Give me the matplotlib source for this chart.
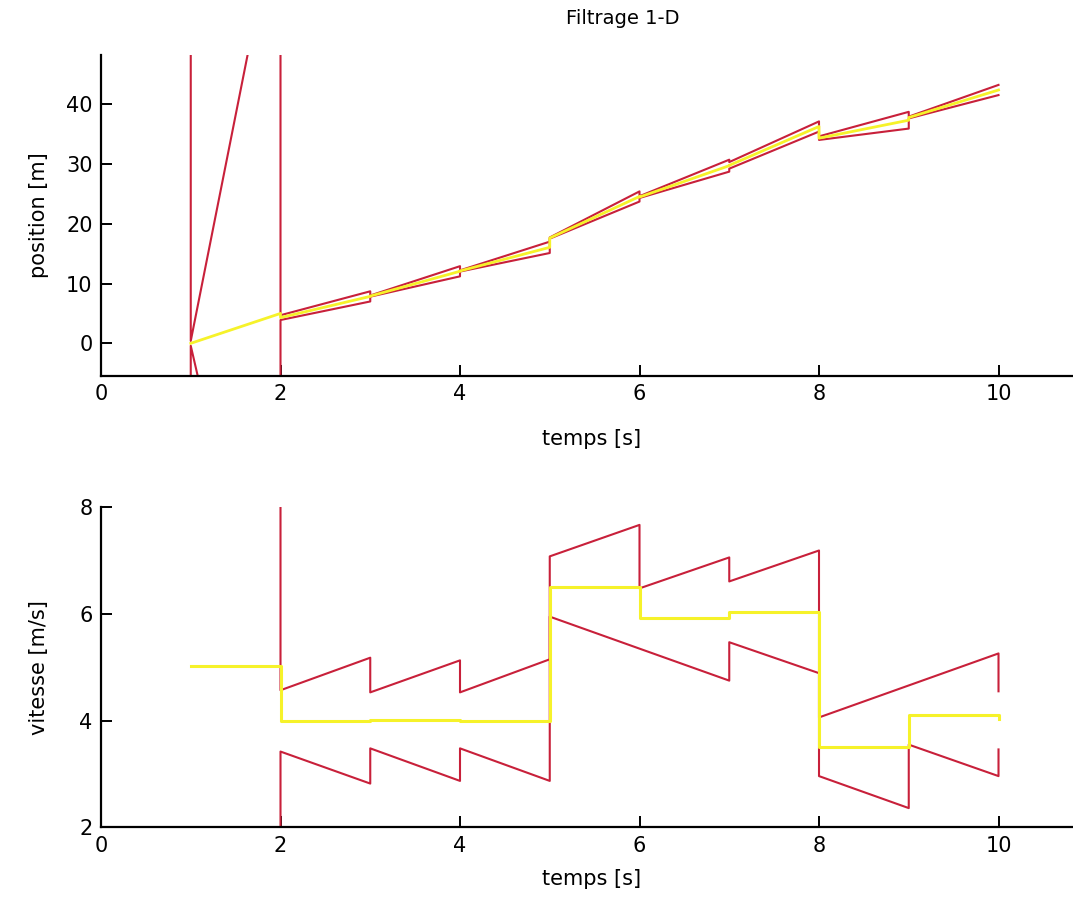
import matplotlib
matplotlib.use("Agg")
import matplotlib.pyplot as plt

# ---------------- data ----------------
# top: position interval bounds (red) and centre estimate (yellow)
pos_up_t = [1, 1, 2, 2, 3, 3, 4, 4, 5, 5, 6, 6, 7, 7, 8, 8, 9, 9, 10]
pos_up_v = [1000, 0.4, 75.9, 4.7, 8.7, 8.0, 12.9, 12.2, 17.0, 17.7, 25.4, 24.6, 30.7, 30.3, 37.1, 34.6, 38.7, 37.9, 43.2]
pos_lo_t = [1, 1, 2, 2, 3, 3, 4, 4, 5, 5, 6, 6, 7, 7, 8, 8, 9, 9, 10]
pos_lo_v = [-1000, -0.4, -65.4, 3.9, 7.0, 7.8, 11.2, 12.0, 15.1, 17.5, 23.7, 24.3, 28.7, 29.2, 35.4, 34.0, 35.9, 37.6, 41.5]
pos_est_t = [1, 2, 2, 3, 3, 4, 4, 5, 5, 6, 6, 7, 7, 8, 8, 9, 9, 10]
pos_est_v = [0.0, 5.0, 4.3, 7.85, 7.9, 12.05, 12.1, 16.05, 17.6, 24.55, 24.45, 29.7, 29.75, 36.25, 34.3, 37.3, 37.75, 42.35]

# bottom: velocity interval bounds (red) and centre estimate (yellow)
vel_up_t = [1, 2, 2, 3, 3, 4, 4, 5, 5, 6, 6, 7, 7, 8, 8, 10, 10]
vel_up_v = [75, 75, 4.57, 5.18, 4.53, 5.13, 4.53, 5.15, 7.08, 7.67, 6.48, 7.06, 6.61, 7.19, 4.06, 5.26, 4.55]
vel_lo_t = [1, 2, 2, 3, 3, 4, 4, 5, 5, 7, 7, 8, 8, 9, 9, 10, 10]
vel_lo_v = [-65, -65, 3.42, 2.82, 3.48, 2.87, 3.48, 2.87, 5.95, 4.75, 5.47, 4.89, 2.96, 2.36, 3.55, 2.96, 3.46]
vel_est_t = [1, 2, 2, 3, 3, 4, 4, 5, 5, 6, 6, 7, 7, 8, 8, 9, 9, 10, 10]
vel_est_v = [5.02, 5.02, 4.0, 4.0, 4.01, 4.01, 4.0, 4.0, 6.51, 6.51, 5.92, 5.92, 6.04, 6.04, 3.51, 3.51, 4.1, 4.1, 4.04]

x_ticks = [0, 2, 4, 6, 8, 10]
pos_ticks = [0, 10, 20, 30, 40]
vel_ticks = [2, 4, 6, 8]

RED = "#c8203a"
YEL = "#f6f22a"

plt.rcParams["font.family"] = ["DejaVu Sans"]
W, H = 1073, 909
fig = plt.figure(figsize=(W / 100, H / 100), dpi=100)

left = 101 / W
width = 1 - left
ax1 = fig.add_axes([left, 1 - 376 / H, width, (376 - 55) / H])
ax2 = fig.add_axes([left, 1 - 827.3 / H, width, (827.3 - 507.3) / H])

def style(ax, xlab_y):
    for s in ("top", "right"):
        ax.spines[s].set_visible(False)
    for s in ("left", "bottom"):
        ax.spines[s].set_linewidth(1.6)
    ax.tick_params(direction="in", length=8, width=1.4, labelsize=15, pad=6)
    ax.set_xlim(0, 10.83)
    ax.set_xticks(x_ticks)
    ax.set_xlabel("temps [s]", fontsize=15)
    ax.xaxis.set_label_coords(0.505, xlab_y)

ax1.plot(pos_up_t, pos_up_v, color=RED, lw=1.5)
ax1.plot(pos_lo_t, pos_lo_v, color=RED, lw=1.5)
ax1.plot(pos_est_t, pos_est_v, color=YEL, lw=2.0)
style(ax1, -0.165)
ax1.set_ylim(-5.46, 48.2)
ax1.set_yticks(pos_ticks)
ax1.set_ylabel("position [m]", fontsize=15)
ax1.yaxis.set_label_coords(-0.053, 0.5)

ax2.plot(vel_up_t, vel_up_v, color=RED, lw=1.5)
ax2.plot(vel_lo_t, vel_lo_v, color=RED, lw=1.5)
ax2.plot(vel_est_t, vel_est_v, color=YEL, lw=2.2)
style(ax2, -0.13)
ax2.set_ylim(2, 8)
ax2.set_yticks(vel_ticks)
ax2.set_ylabel("vitesse [m/s]", fontsize=15)
ax2.yaxis.set_label_coords(-0.053, 0.5)

fig.text(623 / W, 1 - 18 / H, "Filtrage 1-D", fontsize=14, ha="center", va="center")

fig.savefig("out.png", dpi=100)
